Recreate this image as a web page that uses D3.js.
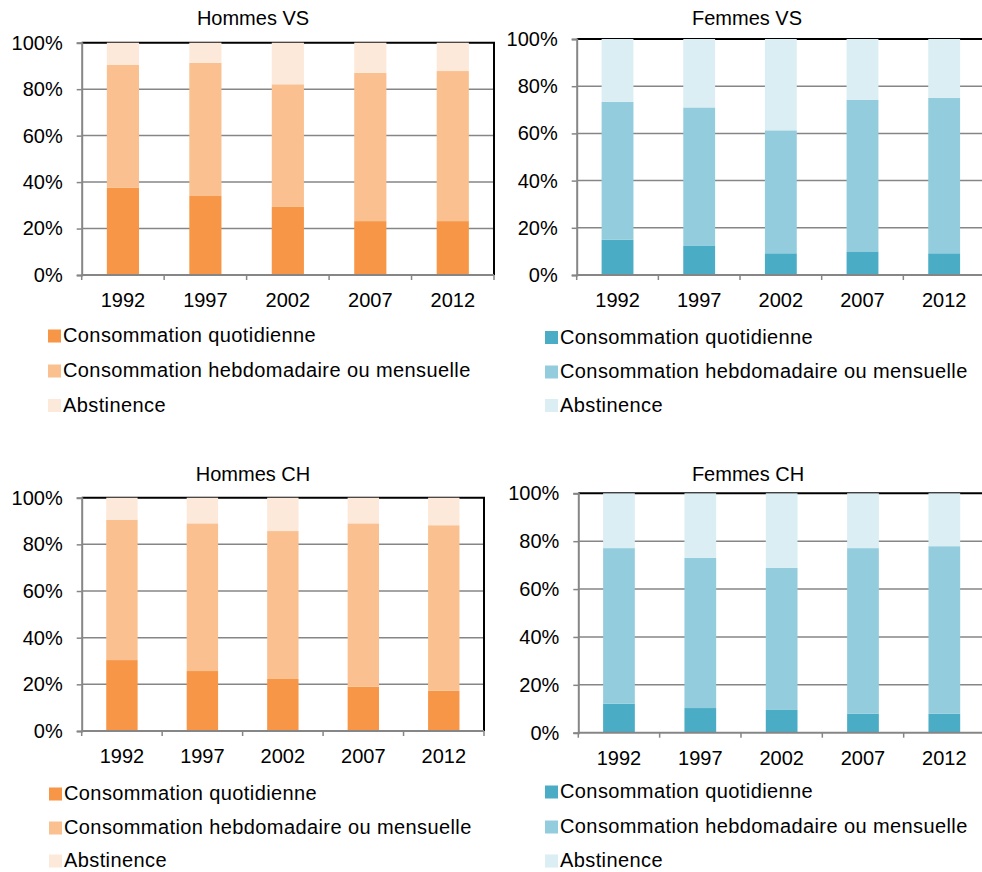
<!DOCTYPE html>
<html>
<head>
<meta charset="utf-8">
<script src="https://cdn.jsdelivr.net/npm/d3@7"></script>
<style>
  html, body { margin: 0; padding: 0; background: #fff; }
  svg { display: block; }
  text { font-family: "Liberation Sans", Arial, sans-serif; fill: #000; }
</style>
</head>
<body>
<svg id="chart" width="982" height="872"></svg>
<script>
// ---------- DATA ----------
const years = ["1992", "1997", "2002", "2007", "2012"];
const seriesNames = ["Consommation quotidienne", "Consommation hebdomadaire ou mensuelle", "Abstinence"];
const yTicks = [0, 20, 40, 60, 80, 100];

const hommesVS_daily  = [37.5, 34.0, 29.3, 23.2, 23.2];
const hommesVS_weekly = [52.9, 57.3, 52.8, 63.8, 64.6];
const hommesVS_abst   = [9.6, 8.7, 17.9, 13.0, 12.2];

const femmesVS_daily  = [15.0, 12.3, 9.2, 10.0, 9.2];
const femmesVS_weekly = [58.4, 58.7, 52.1, 64.3, 65.9];
const femmesVS_abst   = [26.6, 29.0, 38.7, 25.7, 24.9];

const hommesCH_daily  = [30.4, 25.7, 22.3, 19.0, 17.3];
const hommesCH_weekly = [60.2, 63.3, 63.4, 70.0, 70.9];
const hommesCH_abst   = [9.4, 11.0, 14.3, 11.0, 11.8];

const femmesCH_daily  = [12.1, 10.3, 9.5, 7.9, 7.9];
const femmesCH_weekly = [65.0, 62.7, 59.4, 69.2, 70.0];
const femmesCH_abst   = [22.9, 27.0, 31.1, 22.9, 22.1];

const orangeColors = ["#F79646", "#FAC090", "#FDE9D9"];
const blueColors   = ["#4BACC6", "#93CDDD", "#DAEEF3"];

// ---------- PANELS (data + layout) ----------
const panels = [
  { title: "Hommes VS", series: [hommesVS_daily, hommesVS_weekly, hommesVS_abst], colors: orangeColors,
    x0: 81.7, x1: 494, yTop: 42.7, yBot: 275, titleX: 253, titleY: 25,
    legX: 48, legBase: [342, 377, 411.5], rightBorder: true },
  { title: "Femmes VS", series: [femmesVS_daily, femmesVS_weekly, femmesVS_abst], colors: blueColors,
    x0: 576.7, x1: 985, yTop: 39, yBot: 275, titleX: 747, titleY: 25,
    legX: 545, legBase: [343.5, 378, 411.5], rightBorder: true },
  { title: "Hommes CH", series: [hommesCH_daily, hommesCH_weekly, hommesCH_abst], colors: orangeColors,
    x0: 81.7, x1: 484, yTop: 497.7, yBot: 731, titleX: 253, titleY: 481,
    legX: 49, legBase: [800, 834, 867], rightBorder: true },
  { title: "Femmes CH", series: [femmesCH_daily, femmesCH_weekly, femmesCH_abst], colors: blueColors,
    x0: 578.3, x1: 985, yTop: 493.3, yBot: 732.7, titleX: 748, titleY: 481,
    legX: 545, legBase: [798, 833, 867], rightBorder: true }
];

const svg = d3.select("#chart");
const gray = "#868686";
const fs = 20;

panels.forEach(p => {
  const g = svg.append("g");

  const x = d3.scaleBand().domain(years).range([p.x0, p.x1]).paddingInner(0.61).paddingOuter(0.305);
  const y = d3.scaleLinear().domain([0, 100]).range([p.yBot, p.yTop]);

  // gridlines (20..80)
  g.append("g").selectAll("line").data(yTicks.filter(t => t > 0 && t < 100)).join("line")
    .attr("x1", p.x0).attr("x2", p.x1)
    .attr("y1", d => y(d)).attr("y2", d => y(d))
    .attr("stroke", gray).attr("stroke-width", 1.5);

  // plot border top & right (black)
  g.append("line").attr("x1", p.x0).attr("x2", p.x1 + 1).attr("y1", y(100)).attr("y2", y(100))
    .attr("stroke", "#000").attr("stroke-width", 2);
  if (p.rightBorder) {
    g.append("line").attr("x1", p.x1).attr("x2", p.x1).attr("y1", y(100)).attr("y2", y(0))
      .attr("stroke", "#000").attr("stroke-width", 2);
  }

  // stacked bars
  const rows = years.map((yr, i) => {
    const o = { year: yr };
    seriesNames.forEach((s, k) => o[s] = p.series[k][i]);
    return o;
  });
  const stack = d3.stack().keys(seriesNames)(rows);
  g.append("g").selectAll("g").data(stack).join("g")
    .attr("fill", (d, k) => p.colors[k])
    .selectAll("rect").data(d => d).join("rect")
    .attr("x", d => x(d.data.year))
    .attr("width", x.bandwidth())
    .attr("y", d => y(Math.min(100, d[1])))
    .attr("height", d => y(d[0]) - y(Math.min(100, d[1])));

  // y axis
  const yAxis = d3.axisLeft(y).tickValues(yTicks).tickSize(5).tickPadding(14).tickFormat(d => d + "%");
  const ya = g.append("g").attr("transform", `translate(${p.x0},0)`).call(yAxis);
  ya.select(".domain").attr("stroke", gray).attr("stroke-width", 2);
  ya.selectAll(".tick line").attr("stroke", gray).attr("stroke-width", 1.5);
  ya.selectAll(".tick text").attr("font-size", fs).attr("font-family", "Liberation Sans, Arial, sans-serif").attr("fill", "#000");

  // x axis line with boundary ticks
  const xa = g.append("g");
  xa.append("line").attr("x1", p.x0).attr("x2", p.x1).attr("y1", y(0)).attr("y2", y(0))
    .attr("stroke", gray).attr("stroke-width", 2);
  const bounds = years.map(yr => x(yr) - x.step() * x.paddingInner() / 2).concat([p.x1]);
  xa.selectAll("line.tk").data(bounds).join("line").attr("class", "tk")
    .attr("x1", d => d).attr("x2", d => d).attr("y1", y(0)).attr("y2", y(0) + 5)
    .attr("stroke", gray).attr("stroke-width", 1.5);
  xa.selectAll("text").data(years).join("text")
    .attr("x", d => x(d) + x.bandwidth() / 2)
    .attr("y", y(0) + 32)
    .attr("text-anchor", "middle").attr("font-size", fs)
    .text(d => d);

  // title
  g.append("text").attr("x", p.titleX).attr("y", p.titleY).attr("text-anchor", "middle")
    .attr("font-size", fs).text(p.title);

  // legend
  const lg = g.append("g");
  seriesNames.forEach((s, k) => {
    lg.append("rect").attr("x", p.legX).attr("y", p.legBase[k] - 12.5).attr("width", 13).attr("height", 13)
      .attr("fill", p.colors[k]);
    lg.append("text").attr("x", p.legX + 15).attr("y", p.legBase[k]).attr("font-size", fs)
      .attr("letter-spacing", 0.4).text(s);
  });
});
</script>
</body>
</html>
